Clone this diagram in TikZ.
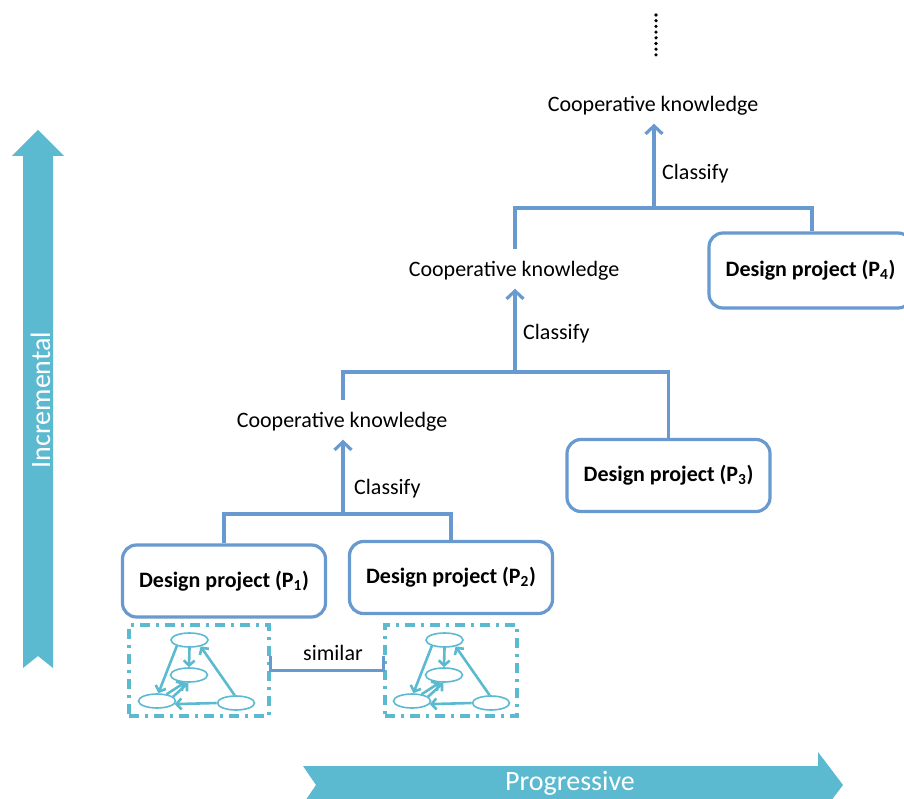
\documentclass[tikz,border=0pt]{standalone}
\usepackage{fontspec}
\setmainfont{Carlito}
\usetikzlibrary{arrows.meta,shapes.geometric}
\definecolor{boxblue}{RGB}{104,154,208}
\definecolor{cyanarrow}{RGB}{92,186,208}
\begin{document}
\begin{tikzpicture}[x=1pt,y=-1pt,
  proj/.style={draw=boxblue, line width=3.2pt, rounded corners=14pt, fill=white,
    font=\bfseries\fontsize{22}{26}\selectfont, inner sep=0pt,
    minimum width=203pt, minimum height=72pt},
  know/.style={font=\fontsize{22}{26}\selectfont, inner sep=1pt},
  lbl/.style={font=\fontsize{22}{26}\selectfont, inner sep=1pt},
  link/.style={draw=boxblue, line width=3.2pt},
  uparrow/.style={link, -{Straight Barb[length=8pt,width=17pt,line width=3.2pt]}, shorten >=7pt},
  dashbox/.style={draw=cyanarrow, line width=3.4pt, dash pattern=on 10pt off 6pt on 3pt off 6pt,
    minimum width=#1, minimum height=91pt, inner sep=0pt},
  gnode/.style={draw=cyanarrow, line width=1.6pt, ellipse, minimum width=37pt, minimum height=14pt, inner sep=0pt},
  garrow/.style={draw=cyanarrow, line width=2.6pt, -{Straight Barb[length=5pt,width=11pt,line width=2.6pt]}},
  bigarrow/.style={fill=cyanarrow, draw=none},
  arrowtext/.style={text=white, font=\fontsize{28}{32}\selectfont, inner sep=0pt}
]
\useasboundingbox (0,0) rectangle (904,799);
\clip (0,0) rectangle (904,799);

% big arrows
\fill[bigarrow] (23,668) -- (23,156) -- (12,156) -- (38,130) -- (64,156) -- (53,156) -- (53,668) -- (38,656) -- cycle;
\node[arrowtext, rotate=90, anchor=base] (incr) at (50,400) {Incremental};
\fill[bigarrow] (303,766) -- (818,766) -- (818,752) -- (843,785) -- (818,818) -- (818,804) -- (303,804) -- (316,785) -- cycle;
\node[arrowtext, anchor=base] (progr) at (570,790) {Progressive};

% design projects
\node[proj] (p1) at (224,581) {Design project (P\textsubscript{1})};
\node[proj] (p2) at (451,577.5) {Design project (P\textsubscript{2})};
\node[proj] (p3) at (668.5,475.5) {Design project (P\textsubscript{3})};
\node[proj, minimum height=75pt] (p4) at (810.5,270.5) {Design project (P\textsubscript{4})};

% knowledge
\node[know] (ck1) at (342,422) {Cooperative knowledge};
\node[know] (ck2) at (514,271) {Cooperative knowledge};
\node[know] (ck3) at (653,106) {Cooperative knowledge};

\coordinate (j1) at (343,514);
\coordinate (j2) at (515,372);
\coordinate (j3) at (654,208);

\draw[link] (p1.north) |- (j1) -| (p2.north);
\draw[uparrow] (j1) -- (j1 |- ck1.south);
\node[lbl, anchor=west] (cl1) at (353,489) {Classify};

\draw[link, shorten <=11.5pt] (j1 |- ck1.north) |- (j2) -| (p3.north);
\draw[uparrow] (j2) -- (j2 |- ck2.south);
\node[lbl, anchor=west] (cl2) at (522,334) {Classify};

\draw[link, shorten <=11.5pt] (j2 |- ck2.north) |- (j3) -| ([xshift=1.5pt]p4.north);
\draw[uparrow] (j3) -- (j3 |- ck3.south);
\node[lbl, anchor=west] (cl3) at (661,174) {Classify};

% dots
\coordinate (d1) at (656,15);
\coordinate (d2) at (656,55);
\draw[line width=3.6pt, line cap=round, dash pattern=on 0pt off 5.7pt] (d1) -- (d2);

% dashed boxes with graphs
\node[dashbox=140pt] (g1) at (199,670.5) {};
\node[dashbox=132pt] (g2) at (451,670.5) {};
\draw[link] ([yshift=15pt]g1.east) -- (g1.east) -- (g2.west) -- ([yshift=15pt]g2.west);
\node[lbl] (sim) at (333,653) {similar};

\foreach \i/\dx in {1/0,2/255}{
  \begin{scope}[shift={(\dx,0)}]
    \node[gnode] (t\i) at (189.5,640) {};
    \node[gnode] (m\i) at (189,675) {};
    \node[gnode] (bl\i) at (157,701) {};
    \node[gnode] (br\i) at (236,703) {};
    \draw[garrow] (t\i.south) -- (m\i.north);
    \draw[garrow] (t\i.205) -- (bl\i.80);
    \draw[garrow] (br\i.100) -- (t\i.330);
    \draw[garrow] (br\i.west) -- (bl\i.350);
    \draw[garrow] (bl\i.35) -- (m\i.240);
    \draw[garrow] (bl\i.15) -- (m\i.265);
  \end{scope}
}
\end{tikzpicture}
\end{document}
